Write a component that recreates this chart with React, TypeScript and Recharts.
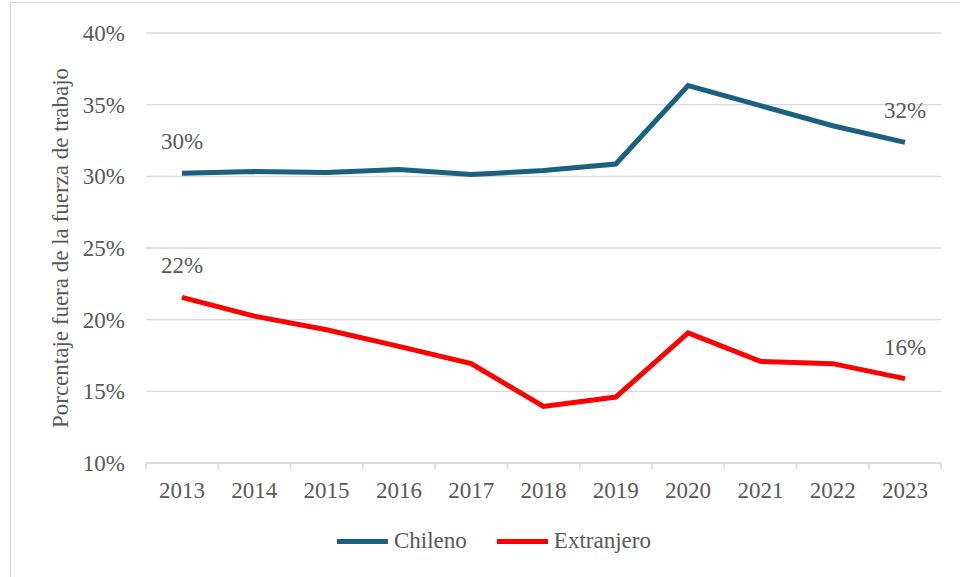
import React from 'react';
import { LineChart, Line, XAxis, YAxis, CartesianGrid, Legend, LabelList } from 'recharts';

const years = ['2013', '2014', '2015', '2016', '2017', '2018', '2019', '2020', '2021', '2022', '2023'];
const chileno = [30.21, 30.33, 30.26, 30.47, 30.12, 30.4, 30.86, 36.33, 34.93, 33.53, 32.37];
const extranjero = [21.55, 20.25, 19.3, 18.14, 16.93, 13.95, 14.6, 19.07, 17.09, 16.93, 15.89];
const yTicks = [10, 15, 20, 25, 30, 35, 40];

const data = years.map((year, i) => ({ year, chileno: chileno[i], extranjero: extranjero[i] }));

const FONT = '"Liberation Serif", "Times New Roman", serif';
const TEXT = '#595959';
const GRID = '#d9d9d9';
const BLUE = '#1a6080';
const RED = '#ff0000';
const HALF_BAND = 36.1;

// only the first and last point get a value label
const endLabel = (props: any) => {
  const { x, y, value, index } = props;
  if (index !== 0 && index !== years.length - 1) return null;
  return (
    <text x={x} y={y - 24} textAnchor="middle" fill={TEXT} fontSize={23} fontFamily={FONT}>
      {Math.round(value)}%
    </text>
  );
};

// year label plus the small tick marks between categories (excel style)
const yearTick = (props: any) => {
  const { x, y, payload, index } = props;
  const axisY = y - 19;
  const last = index === years.length - 1;
  return (
    <g>
      <line x1={x - HALF_BAND} x2={x - HALF_BAND} y1={axisY} y2={axisY + 6} stroke={GRID} strokeWidth={1.5} />
      {last && <line x1={x + HALF_BAND} x2={x + HALF_BAND} y1={axisY} y2={axisY + 6} stroke={GRID} strokeWidth={1.5} />}
      <text x={x} y={y} dy="0.71em" textAnchor="middle" fill={TEXT} fontSize={23} fontFamily={FONT}>
        {payload.value}
      </text>
    </g>
  );
};

const yTitle = (props: any) => {
  const { viewBox } = props;
  const cy = viewBox.y + viewBox.height / 2;
  return (
    <text
      transform={`translate(68, ${cy}) rotate(-90)`}
      textAnchor="middle"
      fill={TEXT}
      fontSize={23}
      fontFamily={FONT}
    >
      Porcentaje fuera de la fuerza de trabajo
    </text>
  );
};

const legendItems = [
  { name: 'Chileno', color: BLUE },
  { name: 'Extranjero', color: RED },
];

const renderLegend = () => (
  <div style={{ display: 'flex', alignItems: 'center', fontFamily: FONT, fontSize: 23, color: TEXT }}>
    {legendItems.map((it, i) => (
      <div key={it.name} style={{ display: 'flex', alignItems: 'center', marginLeft: i === 0 ? 0 : 30 }}>
        <div style={{ width: 51, height: 5, background: it.color, marginRight: 6 }} />
        <span>{it.name}</span>
      </div>
    ))}
  </div>
);

export default function App() {
  return (
    <div style={{ position: 'absolute', left: 0, top: 0, width: 960, height: 577, background: '#fff' }}>
      <div
        style={{
          position: 'absolute',
          left: 10,
          top: 2,
          width: 960,
          height: 600,
          borderLeft: `1.5px solid ${GRID}`,
          borderTop: `1.5px solid ${GRID}`,
        }}
      />
      <LineChart width={960} height={577} data={data} margin={{ top: 33, right: 19, bottom: 69, left: 0 }}>
        <CartesianGrid vertical={false} stroke={GRID} strokeWidth={1.3} />
        <XAxis
          dataKey="year"
          axisLine={{ stroke: GRID, strokeWidth: 1.5 }}
          tickLine={false}
          tickMargin={13}
          height={45}
          interval={0}
          padding={{ left: 36, right: 36 }}
          tick={yearTick}
        />
        <YAxis
          domain={[10, 40]}
          ticks={yTicks}
          width={146}
          axisLine={false}
          tickLine={false}
          tickMargin={15}
          tickFormatter={(v) => `${v}%`}
          tick={{ fill: TEXT, fontSize: 23, fontFamily: FONT }}
          label={{ content: yTitle }}
        />
        <Legend
          layout="horizontal"
          verticalAlign="middle"
          align="center"
          content={renderLegend}
          wrapperStyle={{ top: 528, left: 337, width: 'auto' }}
        />
        <Line dataKey="chileno" name="Chileno" stroke={BLUE} strokeWidth={5} dot={false} isAnimationActive={false}>
          <LabelList dataKey="chileno" content={endLabel} />
        </Line>
        <Line dataKey="extranjero" name="Extranjero" stroke={RED} strokeWidth={5} dot={false} isAnimationActive={false}>
          <LabelList dataKey="extranjero" content={endLabel} />
        </Line>
      </LineChart>
    </div>
  );
}
